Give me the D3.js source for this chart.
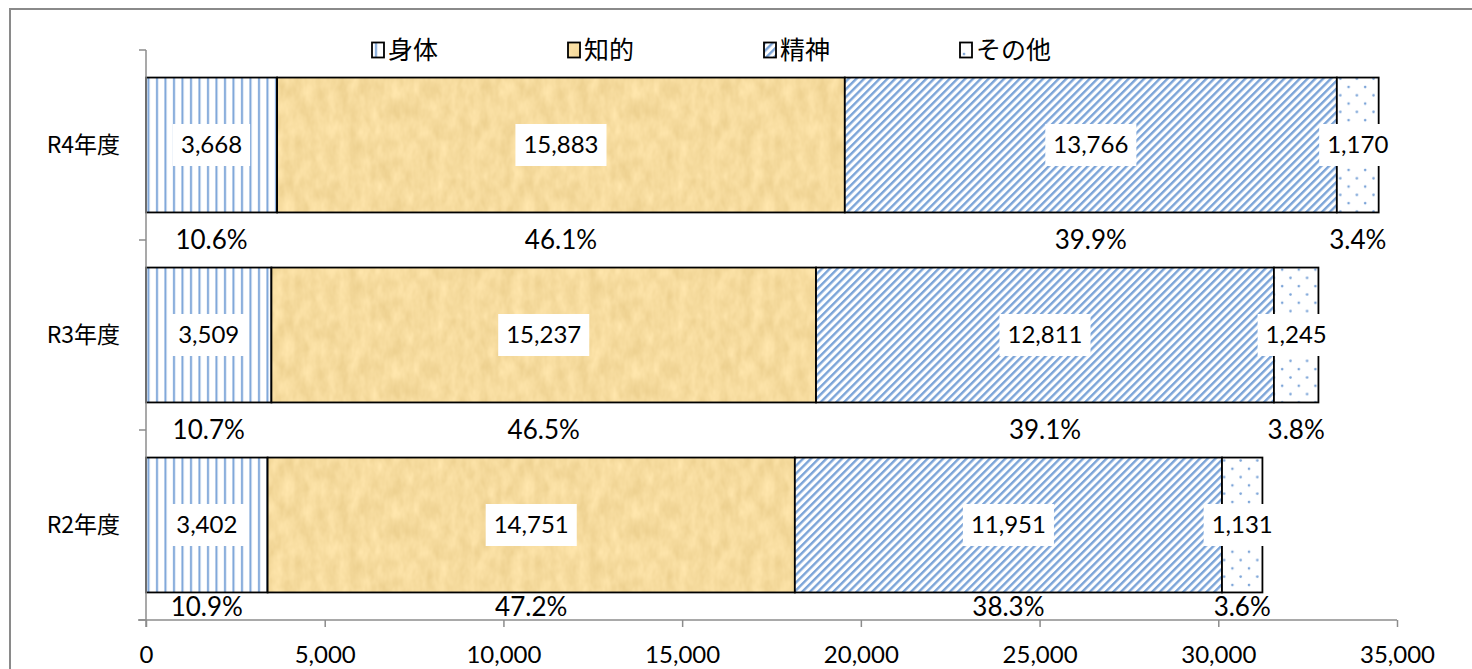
<!DOCTYPE html>
<html>
<head>
<meta charset="utf-8">
<script src="https://cdn.jsdelivr.net/npm/d3@7"></script>
<style>
  html, body { margin: 0; padding: 0; background: #fff; }
  svg { display: block; }
</style>
</head>
<body>
<svg id="chart" width="1472" height="669"></svg>
<script>
// chart data
const categories = ["R4年度", "R3年度", "R2年度"];
const seriesNames = ["身体", "知的", "精神", "その他"];
const shintai = [3668, 3509, 3402];
const chiteki = [15883, 15237, 14751];
const seishin = [13766, 12811, 11951];
const sonota = [1170, 1245, 1131];
const shintaiPct = ["10.6%", "10.7%", "10.9%"];
const chitekiPct = ["46.1%", "46.5%", "47.2%"];
const seishinPct = ["39.9%", "39.1%", "38.3%"];
const sonotaPct = ["3.4%", "3.8%", "3.6%"];
const xTicks = [0, 5000, 10000, 15000, 20000, 25000, 30000, 35000];

const latin = "Lato, 'Open Sans', sans-serif";
const cjk = "'Noto Sans CJK JP', sans-serif";
const blue = "#7ba4d8";

// build rows for the stack
const rows = categories.map((c, i) => ({
  cat: c,
  "身体": shintai[i], "知的": chiteki[i], "精神": seishin[i], "その他": sonota[i],
  pct: [shintaiPct[i], chitekiPct[i], seishinPct[i], sonotaPct[i]]
}));

const svg = d3.select("#chart");
const defs = svg.append("defs");

// fill patterns (Excel style)
const pVert = defs.append("pattern").attr("id", "p-vert")
  .attr("patternUnits", "userSpaceOnUse").attr("width", 8.5).attr("height", 8);
pVert.append("rect").attr("width", 8.5).attr("height", 8).attr("fill", "#fff");
pVert.append("rect").attr("x", 3).attr("width", 2).attr("height", 8).attr("fill", blue);

const pDiag = defs.append("pattern").attr("id", "p-diag")
  .attr("patternUnits", "userSpaceOnUse").attr("width", 5.5).attr("height", 5.5)
  .attr("patternTransform", "rotate(45)");
pDiag.append("rect").attr("width", 5.5).attr("height", 5.5).attr("fill", "#fff");
pDiag.append("rect").attr("width", 2.4).attr("height", 5.5).attr("fill", blue);

const pDot = defs.append("pattern").attr("id", "p-dot")
  .attr("patternUnits", "userSpaceOnUse").attr("width", 16.6).attr("height", 16.6);
pDot.append("rect").attr("width", 16.6).attr("height", 16.6).attr("fill", "#fff");
pDot.append("circle").attr("cx", 4).attr("cy", 4).attr("r", 1.3).attr("fill", blue);
pDot.append("circle").attr("cx", 12.3).attr("cy", 12.3).attr("r", 1.3).attr("fill", blue);

// paper texture for 知的, drawn into a pattern tile so the stroke stays intact
const paper = defs.append("filter").attr("id", "paper")
  .attr("color-interpolation-filters", "sRGB")
  .attr("x", 0).attr("y", 0).attr("width", 1).attr("height", 1);
paper.append("feTurbulence").attr("type", "fractalNoise")
  .attr("baseFrequency", "0.09 0.05").attr("numOctaves", 3).attr("seed", 4)
  .attr("stitchTiles", "stitch")
  .attr("result", "noise");
paper.append("feColorMatrix").attr("in", "noise").attr("type", "matrix")
  .attr("values", "0.1 0 0 0 0.915  0.12 0 0 0 0.80  0.16 0 0 0 0.54  0 0 0 0 1");
const pPaper = defs.append("pattern").attr("id", "p-paper")
  .attr("patternUnits", "userSpaceOnUse").attr("width", 240).attr("height", 140);
pPaper.append("rect").attr("width", 240).attr("height", 140)
  .attr("fill", "#e8c98a").attr("filter", "url(#paper)");

const fills = {"身体": "url(#p-vert)", "知的": "url(#p-paper)", "精神": "url(#p-diag)", "その他": "url(#p-dot)"};

// outer frame
svg.append("rect")
  .attr("x", 10).attr("y", 9).attr("width", 1500).attr("height", 700)
  .attr("fill", "none").attr("stroke", "#8a8a8a").attr("stroke-width", 2);

const x = d3.scaleLinear().domain([0, 35000]).range([146, 1397]);
const y = d3.scaleBand().domain(categories).range([50, 620])
  .paddingInner(0.29).paddingOuter(0.145);

const stack = d3.stack().keys(seriesNames)(rows);

// bars
const layers = svg.append("g").selectAll("g")
  .data(stack).join("g")
  .attr("fill", d => fills[d.key]);

layers.selectAll("rect")
  .data(d => d)
  .join("rect")
  .attr("x", d => x(d[0]))
  .attr("y", d => y(d.data.cat))
  .attr("width", d => x(d[1]) - x(d[0]))
  .attr("height", y.bandwidth())
  .attr("stroke", "#000").attr("stroke-width", 1.8);

// axes
const axisColor = "#8c8c8c";
const gx = svg.append("g").attr("transform", "translate(0,620)")
  .call(d3.axisBottom(x).tickValues(xTicks).tickSize(7).tickPadding(19)
    .tickFormat(d3.format(",")));
gx.select(".domain").attr("stroke", axisColor).attr("stroke-width", 1.5)
  .attr("d", "M138,0H1397");
gx.selectAll(".tick line").attr("stroke", axisColor).attr("stroke-width", 1.5);
gx.selectAll(".tick text").attr("font-family", latin).attr("font-size", 24)
  .attr("fill", "#000");

const yEdges = [50].concat(categories.map(c => y(c) + y.bandwidth() + (y.step() - y.bandwidth()) / 2));
const gy = svg.append("g");
gy.append("line").attr("x1", 146).attr("x2", 146).attr("y1", 50).attr("y2", 627)
  .attr("stroke", axisColor).attr("stroke-width", 1.5);
gy.selectAll("line.tk").data(yEdges).join("line").attr("class", "tk")
  .attr("x1", 139).attr("x2", 146).attr("y1", d => d).attr("y2", d => d)
  .attr("stroke", axisColor).attr("stroke-width", 1.5);

// category labels
svg.append("g").selectAll("text")
  .data(categories).join("text")
  .attr("x", 120)
  .attr("y", d => y(d) + y.bandwidth() / 2)
  .attr("dy", "0.35em")
  .attr("text-anchor", "end")
  .attr("font-family", cjk).attr("font-size", 23).attr("fill", "#000")
  .text(d => d);

// value labels with white boxes
const fmt = d3.format(",");
const valueLabels = svg.append("g").selectAll("g")
  .data(stack.flatMap(s => s.map(d => ({key: s.key, d}))))
  .join("g")
  .attr("transform", o => `translate(${(x(o.d[0]) + x(o.d[1])) / 2},${y(o.d.data.cat) + y.bandwidth() / 2})`);
valueLabels.append("text")
  .attr("text-anchor", "middle").attr("dy", "0.35em")
  .attr("font-family", latin).attr("font-size", 24).attr("fill", "#000")
  .text(o => fmt(o.d[1] - o.d[0]));
valueLabels.each(function() {
  const g = d3.select(this);
  const b = g.select("text").node().getBBox();
  g.insert("rect", "text")
    .attr("x", b.x - 8).attr("y", -21)
    .attr("width", b.width + 16).attr("height", 42)
    .attr("fill", "#fff");
});

// percent labels below each bar
const pctY = c => Math.min(y(c) + y.bandwidth() + (y.step() - y.bandwidth()) / 2, 607);
svg.append("g").selectAll("text")
  .data(stack.flatMap((s, k) => s.map(d => ({k, d}))))
  .join("text")
  .attr("x", o => (x(o.d[0]) + x(o.d[1])) / 2)
  .attr("y", o => pctY(o.d.data.cat))
  .attr("dy", "0.35em")
  .attr("text-anchor", "middle")
  .attr("font-family", latin).attr("font-size", 26).attr("fill", "#000")
  .text(o => o.d.data.pct[o.k]);

// legend
const legend = svg.append("g").selectAll("g")
  .data(seriesNames).join("g")
  .attr("transform", (d, i) => `translate(${372 + i * 196},50)`);
legend.append("rect")
  .attr("x", 0).attr("y", -7.5).attr("width", 12).attr("height", 15)
  .attr("fill", d => fills[d])
  .attr("stroke", "#000").attr("stroke-width", 1.8);
legend.append("text")
  .attr("x", 16).attr("dy", "0.36em")
  .attr("font-family", cjk).attr("font-size", 25).attr("fill", "#000")
  .text(d => d);
</script>
</body>
</html>
